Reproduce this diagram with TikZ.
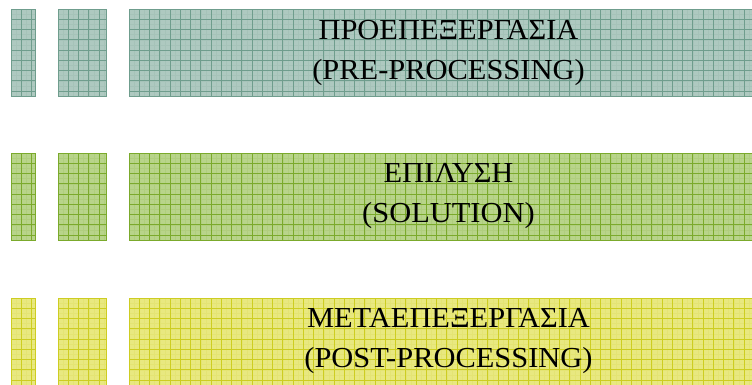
\documentclass[tikz,border=0pt]{standalone}
\usepackage{fontspec}
\setmainfont{Liberation Serif}[FakeStretch=1.05]

% fill and grid-line colours of the three stages
\definecolor{preFill}{HTML}{AEC9C0}
\definecolor{preLine}{HTML}{6F9D8D}
\definecolor{solFill}{HTML}{B8D48A}
\definecolor{solLine}{HTML}{7BAA2C}
\definecolor{postFill}{HTML}{E8E880}
\definecolor{postLine}{HTML}{CDCD22}

\tikzset{
  % a filled tile; #1 = fill colour
  tile/.style={fill=#1, draw=none,
    minimum height=87pt, inner sep=0pt, outer sep=0pt, anchor=north west},
  minorgrid/.style={line width=0.3pt, opacity=0.12, step=5.125pt},
  majorgrid/.style={line width=0.75pt, step=10.25pt},
  stagetext/.style={align=center, text=black, inner sep=0pt,
    font=\fontsize{29}{40}\selectfont},
}

% grid pattern over a tile, anchored at its top-left corner
\newcommand{\tilegrid}[2]{%
  \begin{scope}
    \clip (#1.north west) rectangle (#1.south east);
    \begin{scope}[shift={(#1.north west)}]
      \draw[#2, minorgrid] (0,0) grid (700,-100);
      \draw[#2, majorgrid] (0,0) grid (700,-100);
    \end{scope}
  \end{scope}
  \draw[#2, line width=0.8pt] (#1.north west) rectangle (#1.south east);
}

\begin{document}
\begin{tikzpicture}[x=1pt,y=1pt]
\useasboundingbox (0,0) rectangle (752,385);
\begin{scope}
\clip (0,0) rectangle (752,385);

% pre-processing row
\node[tile=preFill, minimum width=24pt]  (preA) at (11,376) {};
\node[tile=preFill, minimum width=48pt]  (preB) at (58,376) {};
\node[tile=preFill, minimum width=639pt] (preC) at (129,376) {};
\tilegrid{preA}{preLine}
\tilegrid{preB}{preLine}
\tilegrid{preC}{preLine}
\node[stagetext] (preT) at (preC.center) {ΠΡΟΕΠΕΞΕΡΓΑΣΙΑ\\(PRE-PROCESSING)};

% solution row
\node[tile=solFill, minimum width=24pt]  (solA) at (11,232) {};
\node[tile=solFill, minimum width=48pt]  (solB) at (58,232) {};
\node[tile=solFill, minimum width=639pt] (solC) at (129,232) {};
\tilegrid{solA}{solLine}
\tilegrid{solB}{solLine}
\tilegrid{solC}{solLine}
\node[stagetext] (solT) at (solC.center) {ΕΠΙΛΥΣΗ\\(SOLUTION)};

% post-processing row
\node[tile=postFill, minimum width=24pt]  (postA) at (11,87) {};
\node[tile=postFill, minimum width=48pt]  (postB) at (58,87) {};
\node[tile=postFill, minimum width=639pt] (postC) at (129,87) {};
\tilegrid{postA}{postLine}
\tilegrid{postB}{postLine}
\tilegrid{postC}{postLine}
\node[stagetext] (postT) at (postC.center) {ΜΕΤΑΕΠΕΞΕΡΓΑΣΙΑ\\(POST-PROCESSING)};
\end{scope}
\end{tikzpicture}
\end{document}
